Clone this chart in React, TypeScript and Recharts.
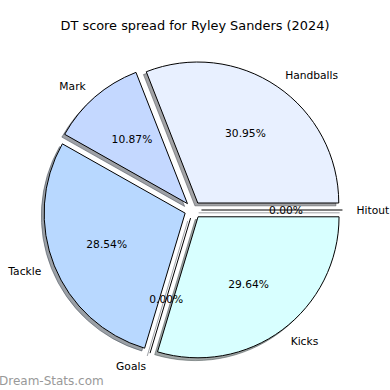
import React from 'react';
import { PieChart, Pie, Sector } from 'recharts';

const categories = ['Handballs', 'Mark', 'Tackle', 'Goals', 'Kicks', 'Hitout'];
const shares = [30.95, 10.87, 28.54, 0, 29.64, 0];
const sliceColors = ['#e8f0ff', '#c4d8ff', '#b8d8ff', '#c8e0ff', '#d8ffff', '#e0f0ff'];
const titleText = 'DT score spread for Ryley Sanders (2024)';
const watermark = 'Dream-Stats.com';

const data = categories.map((name, i) => ({ name, value: shares[i] }));

const W = 390;
const H = 390;
const CX = 193;
const CY = 210;
const R = 141;
const EXPLODE = 0.06;
const SHADOW = 0.02;
const FONT = '"DejaVu Sans", sans-serif';
const LABEL_FS = 10.7;
const RAD = Math.PI / 180;

function shadowColor(hex: string) {
  const n = parseInt(hex.slice(1), 16);
  const r = Math.round(((n >> 16) & 255) * 0.3);
  const g = Math.round(((n >> 8) & 255) * 0.3);
  const b = Math.round((n & 255) * 0.3);
  return `rgb(${r},${g},${b})`;
}

function dir(angle: number, dist: number) {
  return [Math.cos(-angle * RAD) * dist, Math.sin(-angle * RAD) * dist];
}

function drawSlice(p: any, color: string, stroke: string, opacity: number, shift: number[]) {
  const [dx, dy] = dir(p.midAngle, EXPLODE * p.outerRadius);
  const x0 = p.cx + dx + shift[0];
  const y0 = p.cy + dy + shift[1];
  if (Math.abs(p.endAngle - p.startAngle) < 1e-9) {
    const [ex, ey] = dir(p.startAngle, p.outerRadius);
    return (
      <line x1={x0} y1={y0} x2={x0 + ex} y2={y0 + ey} stroke={stroke} strokeOpacity={opacity} strokeWidth={1} />
    );
  }
  return (
    <Sector
      cx={x0}
      cy={y0}
      innerRadius={0}
      outerRadius={p.outerRadius}
      startAngle={p.startAngle}
      endAngle={p.endAngle}
      fill={color}
      fillOpacity={opacity}
      stroke={stroke}
      strokeOpacity={opacity}
      strokeWidth={1}
    />
  );
}

const renderShadow = (p: any) => {
  const c = shadowColor(sliceColors[p.index]);
  return <g key={`sh-${p.index}`}>{drawSlice(p, c, c, 0.5, [-SHADOW * p.outerRadius, SHADOW * p.outerRadius])}</g>;
};

const renderWedge = (p: any) => {
  return <g key={`w-${p.index}`}>{drawSlice(p, sliceColors[p.index], '#000', 1, [0, 0])}</g>;
};

const renderText = (p: any) => {
  const [dx, dy] = dir(p.midAngle, EXPLODE * p.outerRadius);
  const [lx, ly] = dir(p.midAngle, 1.1 * p.outerRadius);
  const [qx, qy] = dir(p.midAngle, 0.6 * p.outerRadius);
  const bx = p.cx + dx;
  const by = p.cy + dy;
  const pct = (p.percent * 100).toFixed(2) + '%';
  return (
    <g key={`t-${p.index}`}>
      <text
        x={bx + lx}
        y={by + ly}
        dy={0.35 * LABEL_FS}
        textAnchor={lx > 0 ? 'start' : 'end'}
        fontFamily={FONT}
        fontSize={LABEL_FS}
        fill="#000"
      >
        {p.name}
      </text>
      <text
        x={bx + qx}
        y={by + qy}
        dy={0.35 * LABEL_FS}
        textAnchor="middle"
        fontFamily={FONT}
        fontSize={LABEL_FS}
        fill="#000"
      >
        {pct}
      </text>
    </g>
  );
};

export default function App() {
  const common = {
    data,
    dataKey: 'value',
    nameKey: 'name',
    cx: CX,
    cy: CY,
    innerRadius: 0,
    outerRadius: R,
    startAngle: 0,
    endAngle: 360,
    fill: 'none',
    stroke: 'none',
    labelLine: false,
    isAnimationActive: false,
  } as any;
  return (
    <div style={{ position: 'absolute', left: 0, top: 0, width: W, height: H, background: '#fff' }}>
      <PieChart width={W} height={H} margin={{ top: 0, right: 0, bottom: 0, left: 0 }}>
        <Pie {...common} label={renderShadow} />
        <Pie {...common} label={renderWedge} />
        <Pie {...common} label={renderText} />
      </PieChart>
      <svg width={W} height={H} style={{ position: 'absolute', left: 0, top: 0, pointerEvents: 'none' }}>
        <text x={195} y={30} textAnchor="middle" fontFamily={FONT} fontSize={12.9} fill="#000">
          {titleText}
        </text>
        <text x={-1} y={385} textAnchor="start" fontFamily={FONT} fontSize={12} fill="#999">
          {watermark}
        </text>
      </svg>
    </div>
  );
}
